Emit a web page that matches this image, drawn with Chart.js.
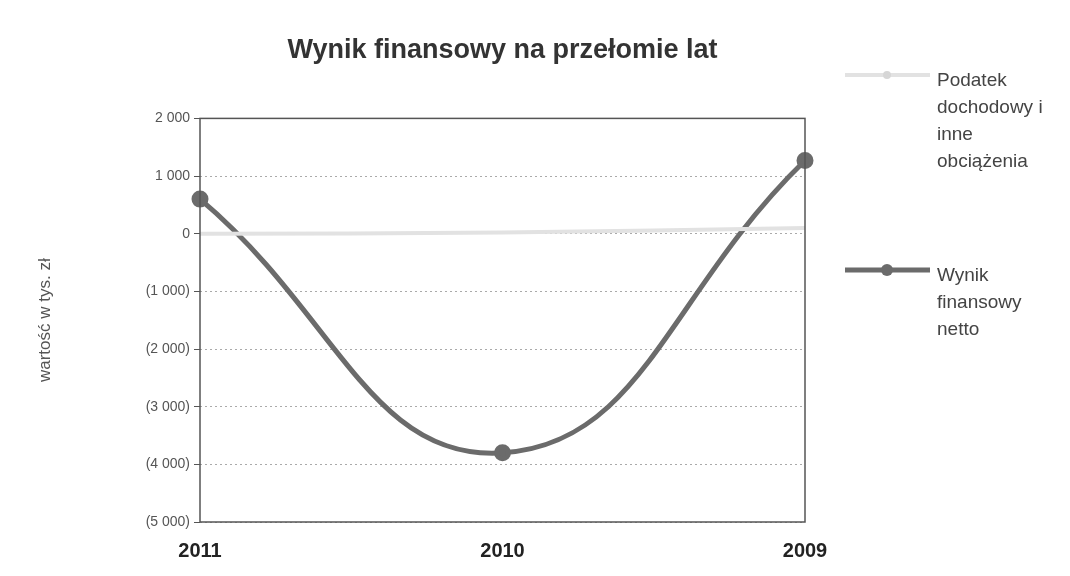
<!DOCTYPE html>
<html>
<head>
<meta charset="utf-8">
<script src="https://cdn.jsdelivr.net/npm/chart.js@4/dist/chart.umd.min.js"></script>
<style>
    body { margin: 0; background: #fff; }
    #wrap { position: relative; width: 1070px; height: 576px; }
    #legend {
        position: absolute;
        left: 0; top: 0;
        font-family: "Liberation Sans", Arial, sans-serif;
        font-size: 19px;
        line-height: 27px;
        color: #444;
    }
    .item { position: absolute; left: 845px; display: flex; width: 225px; }
    .item svg { flex: none; margin-top: 3px; }
    .item span { margin-left: 7px; }
</style>
</head>
<body>
<div id="wrap">
    <canvas id="chartLine" width="1070" height="576"></canvas>
    <div id="legend"></div>
</div>
<script>
const years = ["2011", "2010", "2009"];
const podatek = [0, 20, 100];
const wynikNetto = [600, -3800, 1270];
const yTicks = [2000, 1000, 0, -1000, -2000, -3000, -4000, -5000];

const seriesNames = [
    ["Podatek", "dochodowy i", "inne", "obciążenia"],
    ["Wynik", "finansowy", "netto"],
];
const seriesColors = ["#e2e2e2", "#6b6b6b"];

function formatTick(value) {
    const s = Math.abs(value).toString().replace(/\B(?=(\d{3})+(?!\d))/g, " ");
    return value < 0 ? "(" + s + ")" : s;
}

// ramka wokol obszaru wykresu
const frame = {
    id: "frame",
    afterDatasetsDraw(chart) {
        const { ctx, chartArea: a } = chart;
        ctx.save();
        ctx.strokeStyle = "#555";
        ctx.lineWidth = 1.5;
        ctx.strokeRect(a.left, a.top, a.right - a.left, a.bottom - a.top);
        ctx.restore();
    },
};

const dataLine = {
    labels: years,
    datasets: [
        {
            label: seriesNames[0].join(" "),
            data: podatek,
            borderColor: seriesColors[0],
            backgroundColor: seriesColors[0],
            borderWidth: 4,
            pointRadius: 0,
            tension: 0.4,
        },
        {
            label: seriesNames[1].join(" "),
            data: wynikNetto,
            borderColor: seriesColors[1],
            backgroundColor: seriesColors[1],
            borderWidth: 5,
            pointRadius: 6,
            tension: 0.45,
        },
    ],
};

const configLine = {
    type: "line",
    data: dataLine,
    options: {
        responsive: false,
        animation: false,
        layout: { padding: { top: 0, right: 265, bottom: 0, left: 0 } },
        plugins: {
            legend: { display: false },
            tooltip: { enabled: false },
            title: {
                display: true,
                fullSize: false,
                text: "Wynik finansowy na przełomie lat",
                color: "#333",
                font: { family: "Liberation Sans", size: 27, weight: "bold" },
                padding: { top: 34, bottom: 52 },
            },
        },
        scales: {
            x: {
                offset: false,
                grid: { display: false },
                border: { display: false },
                ticks: {
                    color: "#222",
                    padding: 9,
                    maxRotation: 0,
                    font: { family: "Liberation Sans", size: 20, weight: "bold" },
                },
                afterFit: (s) => { s.height = 54; },
            },
            y: {
                min: -5000,
                max: 2000,
                afterBuildTicks: (s) => { s.ticks = yTicks.map((v) => ({ value: v })); },
                grid: {
                    color: "#aaa",
                    lineWidth: 1,
                    tickColor: "#555",
                    tickLength: 6,
                },
                border: { display: false, dash: [2, 3] },
                ticks: {
                    color: "#555",
                    padding: 4,
                    font: { family: "Liberation Sans", size: 14 },
                    callback: (v) => formatTick(v),
                },
                title: {
                    display: true,
                    text: "wartość w tys. zł",
                    color: "#555",
                    font: { family: "Liberation Sans", size: 17 },
                    padding: { top: 35, bottom: 0 },
                },
                afterFit: (s) => { s.width = 200; },
            },
        },
    },
    plugins: [frame],
};

// legenda jako HTML, zeby zawijac tekst jak w oryginale
function buildLegend() {
    const tops = [66, 261];
    const box = document.getElementById("legend");
    seriesNames.forEach((lines, i) => {
        const ds = dataLine.datasets[i];
        const item = document.createElement("div");
        item.className = "item";
        item.style.top = tops[i] + "px";
        const marker = ds.pointRadius > 0
            ? `<circle cx="42" cy="6" r="6" fill="${ds.borderColor}"/>`
            : `<circle cx="42" cy="6" r="4" fill="#d6d6d6"/>`;
        item.innerHTML =
            `<svg width="85" height="12"><line x1="0" y1="6" x2="85" y2="6" stroke="${ds.borderColor}" stroke-width="${ds.borderWidth}"/>${marker}</svg>` +
            `<span>${lines.join("<br>")}</span>`;
        box.appendChild(item);
    });
}

new Chart(document.getElementById("chartLine"), configLine);
buildLegend();
</script>
</body>
</html>
